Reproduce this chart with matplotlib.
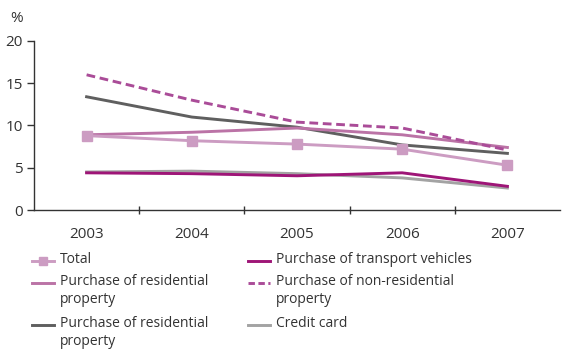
import matplotlib
matplotlib.use("Agg")
import matplotlib.pyplot as plt
from matplotlib.lines import Line2D

plt.rcParams['font.family'] = ['Open Sans', 'DejaVu Sans']

years = ['2003', '2004', '2005', '2006', '2007']
total = [8.8, 8.2, 7.8, 7.2, 5.3]
residential = [8.9, 9.2, 9.7, 8.9, 7.4]
transport = [4.4, 4.3, 4.05, 4.4, 2.8]
non_residential = [16.0, 13.0, 10.4, 9.7, 7.1]
residential_2 = [13.4, 11.0, 9.8, 7.7, 6.7]
credit_card = [4.5, 4.6, 4.3, 3.8, 2.6]

labels = ['Total', 'Purchase of residential\nproperty', 'Purchase of residential\nproperty',
          'Purchase of transport vehicles', 'Purchase of non-residential\nproperty', 'Credit card']

c_total = '#cc9cc2'
c_res = '#bb73a6'
c_transport = '#9e1577'
c_nonres = '#aa4c98'
c_dark = '#5f5f5f'
c_credit = '#a3a3a3'
text_c = '#333333'

fig = plt.figure(figsize=(5.62, 3.5), dpi=100)
ax = fig.add_axes([34/562, 1-210/350, 526/562, 169/350])

x = range(len(years))
lw = 2.1
ax.plot(x, credit_card, color=c_credit, lw=lw)
ax.plot(x, transport, color=c_transport, lw=lw)
ax.plot(x, residential_2, color=c_dark, lw=lw)
ax.plot(x, residential, color=c_res, lw=lw)
ax.plot(x, non_residential, color=c_nonres, lw=lw, ls=(0, (3, 1.6)))
ax.plot(x, total, color=c_total, lw=lw, marker='s', ms=7, mec=c_total)

ax.set_xlim(-0.5, len(years) - 0.5)
ax.set_ylim(0, 20)
ax.set_yticks([0, 5, 10, 15, 20])
ax.set_xticks(list(x))
ax.set_xticklabels(years)
ax.set_xticks([i + 0.5 for i in range(len(years) - 1)], minor=True)
ax.tick_params(axis='x', which='major', length=0, pad=12, labelsize=11, colors=text_c)
ax.tick_params(axis='x', which='minor', length=6, direction='inout', color=text_c, width=1)
ax.tick_params(axis='y', length=5, direction='out', labelsize=11, colors=text_c, width=1, pad=3)
for s in ['top', 'right']:
    ax.spines[s].set_visible(False)
for s in ['left', 'bottom']:
    ax.spines[s].set_color(text_c)
    ax.spines[s].set_linewidth(1)

fig.text(10/562, 1-18/350, '%', fontsize=11, color=text_c, va='center', ha='left')

# legend drawn in figure pixel coordinates
W, H = 562, 350
entries = [
    (32, 261, c_total, '-', 's', labels[0]),
    (32, 283, c_res, '-', None, labels[1]),
    (32, 325, c_dark, '-', None, labels[2]),
    (248, 261, c_transport, '-', None, labels[3]),
    (248, 283, c_nonres, (0, (2.2, 1.2)), None, labels[4]),
    (248, 325, c_credit, '-', None, labels[5]),
]
for hx, hy, col, ls, mk, lab in entries:
    fig.add_artist(Line2D([hx/W, (hx+22)/W], [1-hy/H, 1-hy/H], color=col, lw=2.1, ls=ls,
                          transform=fig.transFigure))
    if mk:
        fig.add_artist(Line2D([(hx+11)/W], [1-hy/H], color=col, marker=mk, ms=6,
                              transform=fig.transFigure))
    fig.text((hx+28)/W, 1-(hy-9)/H, lab, fontsize=10, color=text_c, va='top', ha='left',
             linespacing=1.3)

fig.savefig('out.png', dpi=100)
